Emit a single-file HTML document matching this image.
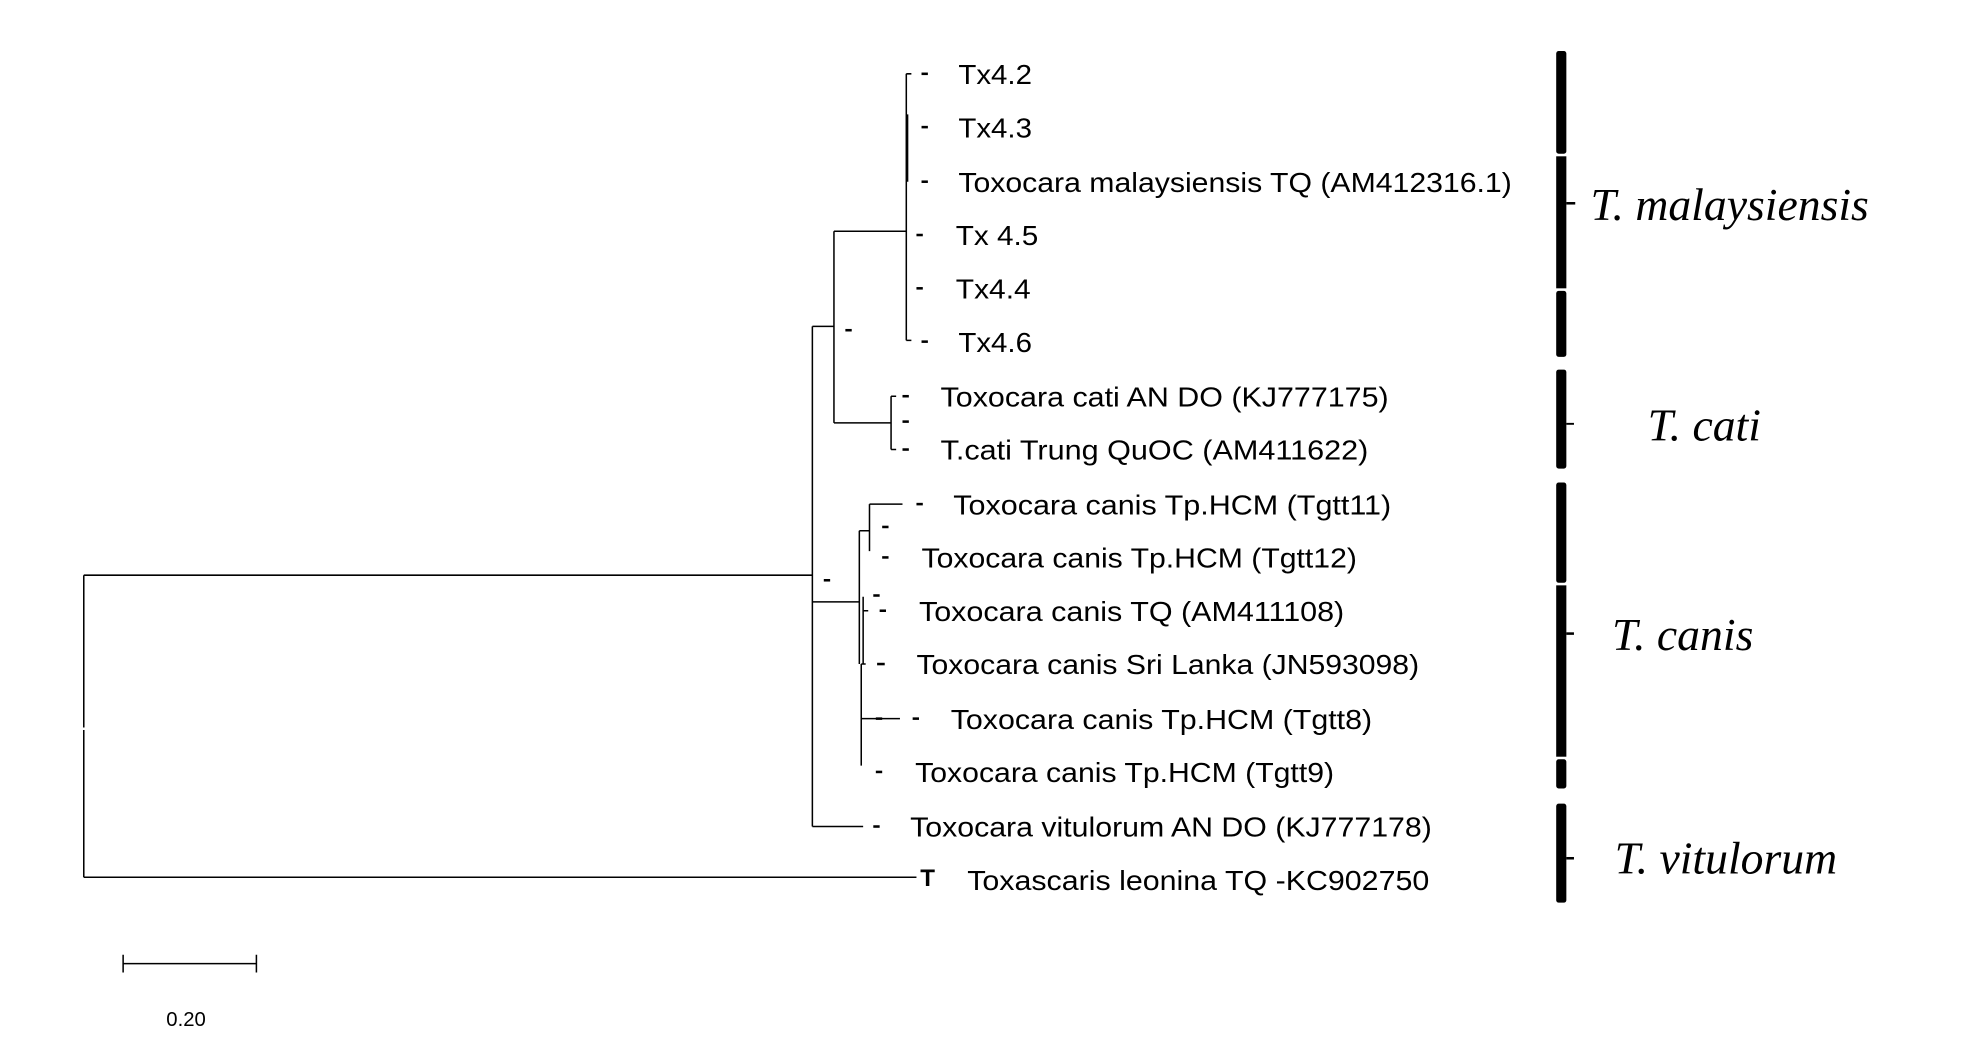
<!DOCTYPE html>
<html><head><meta charset="utf-8"><style>html,body{margin:0;padding:0;background:#fff}svg{display:block}</style></head>
<body>
<svg width="1970" height="1059" viewBox="0 0 1552 834" xmlns="http://www.w3.org/2000/svg">
<g stroke="#000" stroke-width="1.2" fill="none">
<!-- root -->
<path d="M66 453V573 M66 575V691 M66 453H640 M66 691H722"/>
<path d="M640 257V651 M640 257H657 M640 474H677 M640 651H680"/>
<path d="M657 182V333 M657 182H714 M657 333H702"/>
<path d="M714 58V268 M715 90V143 M714 58H718 M714 268H718"/>
<path d="M702 312V354 M702 312H706 M702 354H706"/>
<!-- canis -->
<path d="M677 418V523 M678.5 523V603 M677 418H685 M685 397V434 M685 397H711"/>
<path d="M680 470V523 M680 481H684 M678.5 566H709 M678.5 523H682"/>
</g>
<g font-family="Liberation Sans, Arial, sans-serif" font-size="22" fill="#000">
<text x="755" y="66" textLength="58" lengthAdjust="spacingAndGlyphs">Tx4.2</text>
<text x="755" y="108" textLength="58" lengthAdjust="spacingAndGlyphs">Tx4.3</text>
<text x="755" y="151" textLength="436" lengthAdjust="spacingAndGlyphs">Toxocara malaysiensis TQ (AM412316.1)</text>
<text x="753" y="193" textLength="65" lengthAdjust="spacingAndGlyphs">Tx 4.5</text>
<text x="753" y="235" textLength="59" lengthAdjust="spacingAndGlyphs">Tx4.4</text>
<text x="755" y="277" textLength="58" lengthAdjust="spacingAndGlyphs">Tx4.6</text>
<text x="741" y="320" textLength="353" lengthAdjust="spacingAndGlyphs">Toxocara cati AN DO (KJ777175)</text>
<text x="741" y="362" textLength="337" lengthAdjust="spacingAndGlyphs">T.cati Trung QuOC (AM411622)</text>
<text x="751" y="405" textLength="345" lengthAdjust="spacingAndGlyphs">Toxocara canis Tp.HCM (Tgtt11)</text>
<text x="726" y="447" textLength="343" lengthAdjust="spacingAndGlyphs">Toxocara canis Tp.HCM (Tgtt12)</text>
<text x="724" y="489" textLength="335" lengthAdjust="spacingAndGlyphs">Toxocara canis TQ (AM411108)</text>
<text x="722" y="531" textLength="396" lengthAdjust="spacingAndGlyphs">Toxocara canis Sri Lanka (JN593098)</text>
<text x="749" y="574" textLength="332" lengthAdjust="spacingAndGlyphs">Toxocara canis Tp.HCM (Tgtt8)</text>
<text x="721" y="616" textLength="330" lengthAdjust="spacingAndGlyphs">Toxocara canis Tp.HCM (Tgtt9)</text>
<text x="717" y="659" textLength="411" lengthAdjust="spacingAndGlyphs">Toxocara vitulorum AN DO (KJ777178)</text>
<text x="762" y="701" textLength="364" lengthAdjust="spacingAndGlyphs">Toxascaris leonina TQ -KC902750</text>
<text x="725" y="698" font-weight="bold" font-size="19">T</text>
</g>
<g fill="#000">
<!-- dashes -->
<rect x="726" y="57" width="5" height="2"/><rect x="726" y="99" width="5" height="2"/><rect x="726" y="142" width="5" height="2"/>
<rect x="722" y="184" width="5" height="2"/><rect x="722" y="226" width="5" height="2"/><rect x="726" y="268" width="5" height="2"/>
<rect x="666" y="259" width="5" height="2"/>
<rect x="711" y="311" width="5" height="2"/><rect x="711" y="331" width="5" height="2"/><rect x="711" y="353" width="5" height="2"/>
<rect x="649" y="456" width="5" height="2"/>
<rect x="722" y="396" width="5" height="2"/><rect x="695" y="414" width="5" height="2"/><rect x="695" y="438" width="5" height="2"/>
<rect x="688" y="468" width="5" height="2"/><rect x="693" y="480" width="5" height="2"/>
<rect x="691" y="522" width="6" height="2"/>
<rect x="690" y="565" width="5" height="2"/><rect x="719" y="565" width="5" height="2"/>
<rect x="690" y="607" width="5" height="2"/><rect x="688" y="650" width="5" height="2"/>
<!-- bars -->
<rect x="1226" y="40" width="8" height="81" rx="2"/><rect x="1226" y="123" width="8" height="104"/><rect x="1226" y="229" width="8" height="52" rx="2"/>
<rect x="1226" y="291" width="8" height="78" rx="2"/>
<rect x="1226" y="380" width="8" height="79" rx="2"/><rect x="1226" y="461" width="8" height="135"/><rect x="1226" y="598" width="8" height="23" rx="2"/>
<rect x="1226" y="633" width="8" height="78" rx="2"/>
<rect x="1234" y="159" width="7" height="2"/><rect x="1234" y="333" width="6" height="1.5"/><rect x="1234" y="498" width="6" height="2"/><rect x="1234" y="675" width="6" height="2"/>
</g>
<g font-family="Liberation Serif, Times New Roman, serif" font-style="italic" font-size="36" fill="#000">
<text x="1253" y="173">T. malaysiensis</text>
<text x="1298" y="347">T. cati</text>
<text x="1270" y="512">T. canis</text>
<text x="1272" y="688">T. vitulorum</text>
</g>
<g stroke="#000" stroke-width="1.2"><path d="M97 759H202 M97 752V766 M202 752V766"/></g>
<text x="131" y="808" font-family="Liberation Sans, Arial, sans-serif" font-size="16">0.20</text>
</svg>
</body></html>
